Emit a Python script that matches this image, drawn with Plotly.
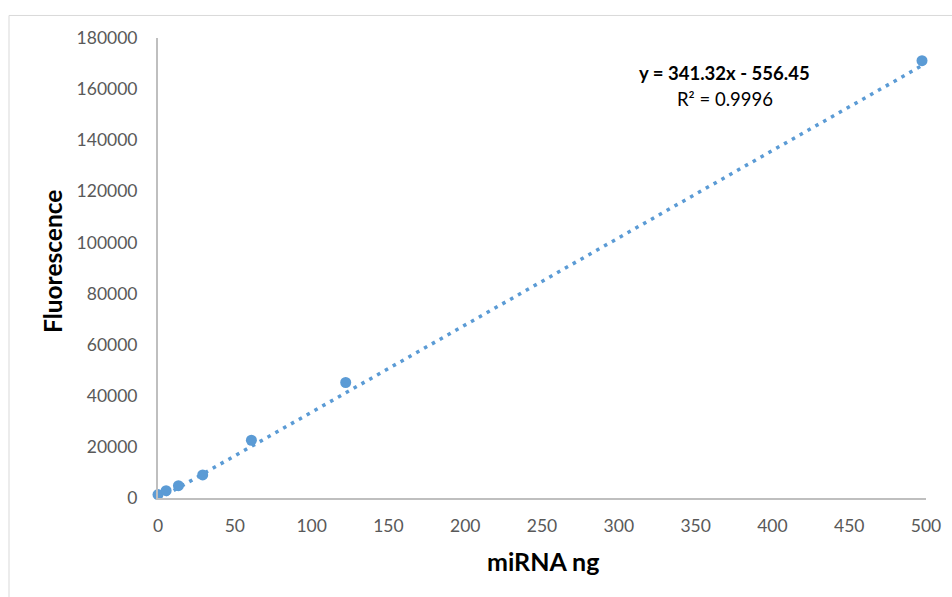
import plotly.graph_objects as go

# Calibration standards: miRNA amount (ng) vs. measured fluorescence
mirna_ng = [0.0, 5.3, 13.3, 29.1, 60.8, 122.2, 497.4]
fluorescence = [1330, 2870, 4820, 9010, 22600, 45190, 171130]

# Linear fit reported on the chart
slope = 341.32
intercept = -556.45
r_squared = 0.9996

x_ticks = [0, 50, 100, 150, 200, 250, 300, 350, 400, 450, 500]
y_ticks = [0, 20000, 40000, 60000, 80000, 100000, 120000, 140000, 160000, 180000]

blue = "#5B9BD5"
tick_color = "#595959"
axis_color = "#BFBFBF"
font_family = "Lato, 'Open Sans', sans-serif"

fit_x = [min(mirna_ng), max(mirna_ng)]
fit_y = [slope * v + intercept for v in fit_x]

fig = go.Figure()

fig.add_trace(go.Scatter(
    x=fit_x, y=fit_y, mode="lines",
    line=dict(color=blue, width=3.5, dash="3.5px,5.5px"),
    hoverinfo="skip", showlegend=False,
))

fig.add_trace(go.Scatter(
    x=mirna_ng, y=fluorescence, mode="markers",
    marker=dict(color=blue, size=11, line=dict(width=0)),
    cliponaxis=False, showlegend=False,
))

eq_text = f"<b>y = {slope}x - {abs(intercept)}</b>"
r2_text = f"R² = {r_squared}"

fig.update_layout(
    width=952, height=597,
    margin=dict(l=158, r=26, t=38, b=99),
    paper_bgcolor="white", plot_bgcolor="white",
    font=dict(family=font_family, size=17, color=tick_color),
    xaxis=dict(
        range=[0, 500], tickvals=x_ticks, ticktext=[str(v) for v in x_ticks],
        showgrid=False, zeroline=False, showline=True,
        linecolor=axis_color, linewidth=2, ticks="",
        ticklabelstandoff=11,
        tickfont=dict(family=font_family, size=17.5, color=tick_color),
    ),
    yaxis=dict(
        range=[0, 180000], tickvals=y_ticks, ticktext=[str(v) for v in y_ticks],
        showgrid=False, zeroline=False, showline=True,
        linecolor=axis_color, linewidth=2, ticks="",
        ticklabelstandoff=15,
        tickfont=dict(family=font_family, size=17.5, color=tick_color),
    ),
    shapes=[dict(
        type="rect", xref="paper", yref="paper",
        x0=-0.194, x1=1.2, y0=-0.4, y1=1.049,
        line=dict(color="#D9D9D9", width=1), fillcolor="rgba(0,0,0,0)",
        layer="below",
    )],
    annotations=[
        dict(text="<b>miRNA ng</b>", xref="paper", yref="paper",
             x=0.501, y=-0.138, xanchor="center", yanchor="middle",
             showarrow=False, font=dict(family=font_family, size=25, color="#000000")),
        dict(text="<b>Fluorescence</b>", xref="paper", yref="paper",
             x=-0.138, y=0.513, xanchor="center", yanchor="middle", textangle=-90,
             showarrow=False, font=dict(family=font_family, size=24.5, color="#000000")),
        dict(text=eq_text, xref="paper", yref="paper",
             x=0.738, y=0.924, xanchor="center", yanchor="middle",
             showarrow=False, font=dict(family=font_family, size=18.5, color="#000000")),
        dict(text=r2_text, xref="paper", yref="paper",
             x=0.738, y=0.867, xanchor="center", yanchor="middle",
             showarrow=False, font=dict(family=font_family, size=18.5, color="#000000")),
    ],
)

fig.write_html("out.html")
